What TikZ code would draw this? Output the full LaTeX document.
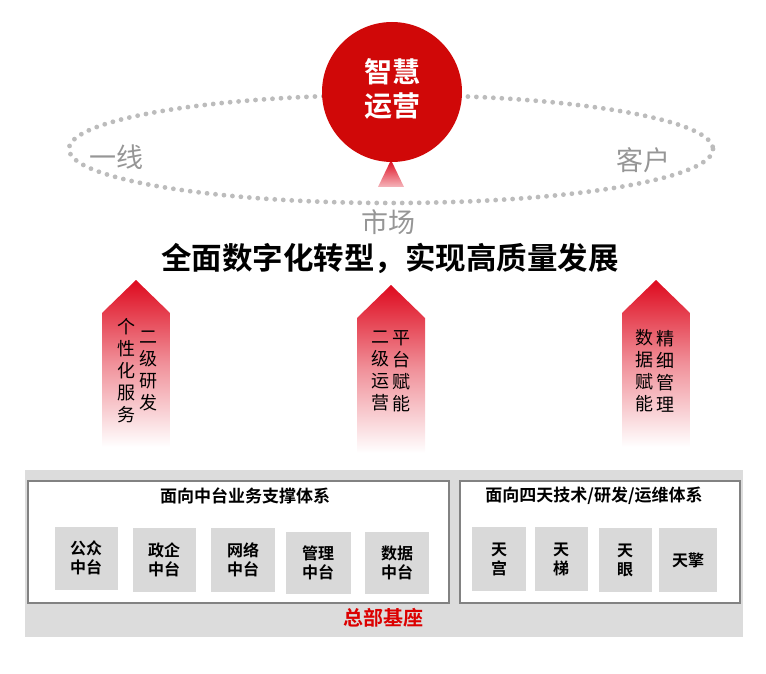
\documentclass[tikz,border=0pt]{standalone}
\usepackage{fontspec}
\setmainfont{Noto Sans CJK SC}[BoldFont={Noto Sans CJK SC Bold}]
\definecolor{deepred}{RGB}{208,8,8}
\definecolor{arrowred}{RGB}{222,10,30}
\definecolor{dotgray}{RGB}{188,188,188}
\definecolor{labgray}{RGB}{150,150,150}
\definecolor{bggray}{RGB}{220,220,220}
\definecolor{boxgray}{RGB}{217,217,217}
\definecolor{edgegray}{RGB}{130,130,130}
\definecolor{basered}{RGB}{220,0,0}
\tikzset{
  outerlab/.style={text=labgray, font=\fontsize{27}{29}\selectfont},
  coltext/.style={align=center, font=\fontsize{18}{22}\selectfont, inner sep=0pt},
  upshade/.style={top color=arrowred, bottom color=white, middle color=arrowred!45, draw=none},
  subbox/.style={fill=boxgray, draw=none, align=center, font=\fontsize{16}{19}\selectfont\bfseries, inner sep=0pt},
  panel/.style={fill=white, draw=edgegray, line width=1.1pt},
  paneltitle/.style={font=\fontsize{17}{19}\selectfont\bfseries}
}
\begin{document}
\begin{tikzpicture}[x=1pt,y=-1pt]
\useasboundingbox (0,0) rectangle (766,674);
% dotted ellipse
\draw[dotgray, line width=4.8pt, line cap=round, dash pattern=on 0pt off 8.5pt] (391,149) ellipse [x radius=322, y radius=54];
% triangle under circle
\shade[top color=arrowred, bottom color=arrowred!30] (391,160) -- (404,187) -- (378,187) -- cycle;
% red circle
\node[circle, fill=deepred, minimum size=140pt, inner sep=0pt] (core) at (392,92) {};
\node[text=white, align=center, font=\fontsize{28}{34}\selectfont\bfseries] (coretext) at (392,89) {智慧\\运营};
\node[outerlab] (yixian) at (116,157) {一线};
\node[outerlab] (kehu) at (643,160) {客户};
\node[outerlab] (shichang) at (388,222) {市场};
% title
\node[font=\fontsize{30.5}{33}\selectfont\bfseries] (title) at (390,258) {全面数字化转型，实现高质量发展};
% gradient arrows
\shade[upshade] (102,447) -- (102,313) -- (136,280) -- (170,313) -- (170,447) -- cycle;
\shade[upshade] (357,453) -- (357,318) -- (391,285) -- (425,318) -- (425,453) -- cycle;
\shade[upshade] (622,447) -- (622,313) -- (656,280) -- (690,313) -- (690,447) -- cycle;
\node[coltext] (a1) at (126,371) {个\\性\\化\\服\\务};
\node[coltext] (a2) at (148,371) {二\\级\\研\\发};
\node[coltext] (b1) at (380,371) {二\\级\\运\\营};
\node[coltext] (b2) at (401,371) {平\\台\\赋\\能};
\node[coltext] (c1) at (644,371) {数\\据\\赋\\能};
\node[coltext] (c2) at (665,371) {精\\细\\管\\理};
% base
\fill[bggray] (25,470) rectangle (743,637);
\draw[panel] (28,481) rectangle (449,603);
\draw[panel] (460,481) rectangle (740,603);
\node[paneltitle] (lt) at (245,496) {面向中台业务支撑体系};
\node[paneltitle] (rt) at (594,496) {面向四天技术/研发/运维体系};
\node[subbox, minimum width=63pt, minimum height=63pt] (s1) at (86,558) {公众\\中台};
\node[subbox, minimum width=63pt, minimum height=64pt] (s2) at (164,560) {政企\\中台};
\node[subbox, minimum width=64pt, minimum height=64pt] (s3) at (243,560) {网络\\中台};
\node[subbox, minimum width=65pt, minimum height=62pt] (s4) at (318,563) {管理\\中台};
\node[subbox, minimum width=64pt, minimum height=62pt] (s5) at (397,563) {数据\\中台};
\node[subbox, minimum width=54pt, minimum height=64pt] (t1) at (499,559) {天\\宫};
\node[subbox, minimum width=53pt, minimum height=64pt] (t2) at (561,559) {天\\梯};
\node[subbox, minimum width=53pt, minimum height=64pt] (t3) at (625,560) {天\\眼};
\node[subbox, minimum width=58pt, minimum height=64pt] (t4) at (688,560) {天擎};
\node[text=basered, font=\fontsize{20}{22}\selectfont\bfseries] (base) at (383,618) {总部基座};
\end{tikzpicture}
\end{document}
